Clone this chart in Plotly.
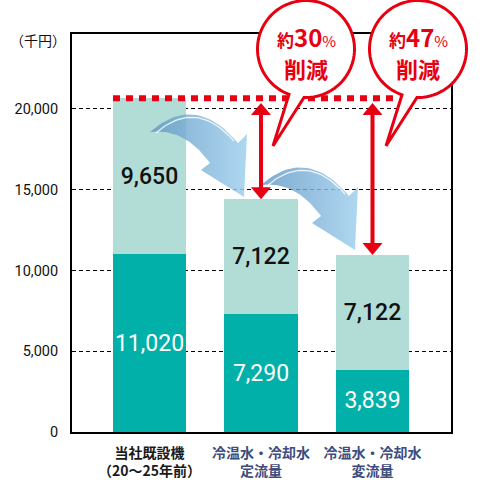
import numpy as np
import plotly.graph_objects as go

# ---------------- data ----------------
categories = ["当社既設機<br>（20〜25年前）", "冷温水・冷却水<br>定流量", "冷温水・冷却水<br>変流量"]
base_values = [11020, 7290, 3839]      # lower (dark teal) segment
upper_values = [9650, 7122, 7122]      # upper (light teal) segment
y_ticks = [0, 5000, 10000, 15000, 20000]
unit_label = "（千円）"
reduction_word = "削減"

totals = [b + u for b, u in zip(base_values, upper_values)]
pcts = [round((1 - t / totals[0]) * 100) for t in totals[1:]]

# ---------------- layout constants ----------------
W = H = 480
ML, MR, MT, MB = 72, 29, 34, 48
PW, PH = W - ML - MR, H - MT - MB
RED = "#E60012"
DARK = "#00B0A9"
LIGHT = "#B2DDD6"
CATBLUE = "#3E4C7E"
X_RANGE = [-0.695, 2.704]
Y_RANGE = [0, 24640]
BAR_W = 0.655


def px(x):
    return (x - ML) / PW


def py(y):
    return (H - MB - y) / PH


def qbez(p0, c, p1, n=30):
    t = np.linspace(0, 1, n)[:, None]
    p0, c, p1 = map(np.array, (p0, c, p1))
    return (1 - t) ** 2 * p0 + 2 * (1 - t) * t * c + t ** 2 * p1


xs = list(range(len(categories)))
fig = go.Figure()

fig.add_trace(go.Bar(
    x=xs, y=base_values, width=BAR_W, marker=dict(color=DARK, line=dict(width=0)),
    text=[f"{v:,}" for v in base_values], textposition="inside", insidetextanchor="middle",
    textangle=0, constraintext="none",
    textfont=dict(family="Roboto", size=23, color="white"), hoverinfo="skip",
))
fig.add_trace(go.Bar(
    x=xs, y=upper_values, width=BAR_W, marker=dict(color=LIGHT, line=dict(width=0)),
    text=[f"{v:,}" for v in upper_values], textposition="inside", insidetextanchor="middle",
    textangle=0, constraintext="none",
    textfont=dict(family="Roboto", size=23, color="#111", weight=500), hoverinfo="skip",
))

# ---------------- blue curved arrows (pixel overlay axes) ----------------
def blue_arrow(dx, dy):
    upper = qbez((150, 132), (195, 92), (238, 143))
    head = np.array([(247, 134), (244, 197), (201, 170), (210, 163)])
    lower = qbez((210, 163), (185, 128), (150, 132))
    pts = np.vstack([upper, head, lower]) + np.array([dx, dy])
    fig.add_trace(go.Scatter(
        x=pts[:, 0], y=pts[:, 1], xaxis="x2", yaxis="y2", mode="lines",
        line=dict(width=0), fill="toself",
        fillgradient=dict(type="horizontal",
                          colorscale=[[0, "rgba(95,150,195,0.80)"], [1, "rgba(160,208,238,0.85)"]]),
        hoverinfo="skip", showlegend=False,
    ))
    hl = qbez((156, 133), (196, 98), (234, 141)) + np.array([dx, dy])
    fig.add_trace(go.Scatter(
        x=hl[:, 0], y=hl[:, 1], xaxis="x2", yaxis="y2", mode="lines",
        line=dict(width=1.2, color="rgba(255,255,255,0.85)"),
        hoverinfo="skip", showlegend=False,
    ))


blue_arrow(0, 0)
blue_arrow(111, 53)

shapes = []
# red dotted reference line at the existing machine's total
shapes.append(dict(type="line", xref="x", yref="y", x0=-BAR_W / 2, x1=2.22,
                   y0=totals[0], y1=totals[0], layer="above",
                   line=dict(color=RED, width=6, dash="7px,6px")))

# red double arrows
head_h = 740
head_w = 0.09
for i, t in enumerate(totals[1:], start=1):
    top = totals[0] - 300
    bot = t
    shapes.append(dict(type="line", xref="x", yref="y", x0=i, x1=i,
                       y0=top - head_h + 50, y1=bot + head_h - 50, layer="above",
                       line=dict(color=RED, width=4)))
    shapes.append(dict(type="path", xref="x", yref="y", layer="above",
                       path=f"M {i},{top} L {i - head_w},{top - head_h} L {i + head_w},{top - head_h} Z",
                       fillcolor=RED, line=dict(width=0)))
    shapes.append(dict(type="path", xref="x", yref="y", layer="above",
                       path=f"M {i},{bot} L {i - head_w},{bot + head_h} L {i + head_w},{bot + head_h} Z",
                       fillcolor=RED, line=dict(width=0)))

# speech bubbles
annotations = []
for k, pct in enumerate(pcts):
    cx, cy, r = 306 + 112 * k, 49, 48.5
    b1 = np.array([289.0 + 113 * k, 0])
    b2 = np.array([304.0 + 113 * k, 0])
    a1 = np.arctan2(np.sqrt(r ** 2 - (b1[0] - cx) ** 2), b1[0] - cx)
    a2 = np.arctan2(np.sqrt(r ** 2 - (b2[0] - cx) ** 2), b2[0] - cx)
    ang = np.linspace(a2, a1 - 2 * np.pi, 90)
    circ = np.column_stack([cx + r * np.cos(ang), cy + r * np.sin(ang)])
    tip = np.array([[273 + 113 * k, 146]])
    pts = np.vstack([circ, tip])
    path = "M " + " L ".join(f"{px(x):.5f},{py(y):.5f}" for x, y in pts) + " Z"
    shapes.append(dict(type="path", xref="paper", yref="paper", path=path, layer="above",
                       fillcolor="white", line=dict(color=RED, width=3)))
    annotations.append(dict(
        xref="paper", yref="paper", x=px(cx), y=py(36), showarrow=False,
        xanchor="center", yanchor="middle",
        text=(f"<b>約</b><span style='font-size:24px'><b>{pct}</b></span>"
              f"<span style='font-size:15px'>%</span>"),
        font=dict(family="Noto Sans CJK JP", size=17, color=RED)))
    annotations.append(dict(
        xref="paper", yref="paper", x=px(cx), y=py(68), showarrow=False,
        xanchor="center", yanchor="middle", text=f"<b>{reduction_word}</b>",
        font=dict(family="Noto Sans CJK JP", size=22, color=RED)))

annotations.append(dict(xref="paper", yref="paper", x=px(38), y=py(40), showarrow=False,
                        xanchor="center", yanchor="middle", text=unit_label,
                        font=dict(family="Noto Sans CJK JP", size=14, color="#111")))

ticktext = []
for i, c in enumerate(categories):
    col = "#1a1a1a" if i == 0 else CATBLUE
    lines = c.split("<br>")
    ticktext.append("<br>".join(f"<span style='color:{col}'><b>{ln}</b></span>" for ln in lines))

fig.update_layout(
    template="none",
    width=W, height=H,
    margin=dict(l=ML, r=MR, t=MT, b=MB, pad=0),
    barmode="stack",
    showlegend=False,
    paper_bgcolor="white", plot_bgcolor="white",
    xaxis=dict(range=X_RANGE, tickvals=xs, ticktext=ticktext, showgrid=False, zeroline=False,
               showline=True, linecolor="black", linewidth=2, mirror=True, ticks="",
               ticklabelstandoff=7,
               tickfont=dict(family="Noto Sans CJK JP", size=14, color=CATBLUE),
               automargin=False, fixedrange=True),
    yaxis=dict(range=Y_RANGE, tickvals=y_ticks, ticktext=[f"{v:,}" for v in y_ticks],
               showgrid=True, gridcolor="black", gridwidth=1, griddash="4px,3px",
               zeroline=False, showline=True, linecolor="black", linewidth=2, mirror=True,
               ticks="", ticklabelstandoff=9,
               tickfont=dict(family="Roboto", size=14.5, color="#111"),
               automargin=False, fixedrange=True),
    xaxis2=dict(overlaying="x", anchor="y2", range=[ML, W - MR], visible=False, fixedrange=True),
    yaxis2=dict(overlaying="y", anchor="x2", range=[H - MB, MT], visible=False, fixedrange=True),
    shapes=shapes,
    annotations=annotations,
)

fig.write_html("out.html", config={"displayModeBar": False, "staticPlot": True},
               post_script="document.body.style.margin='0';document.body.style.overflow='hidden';")
